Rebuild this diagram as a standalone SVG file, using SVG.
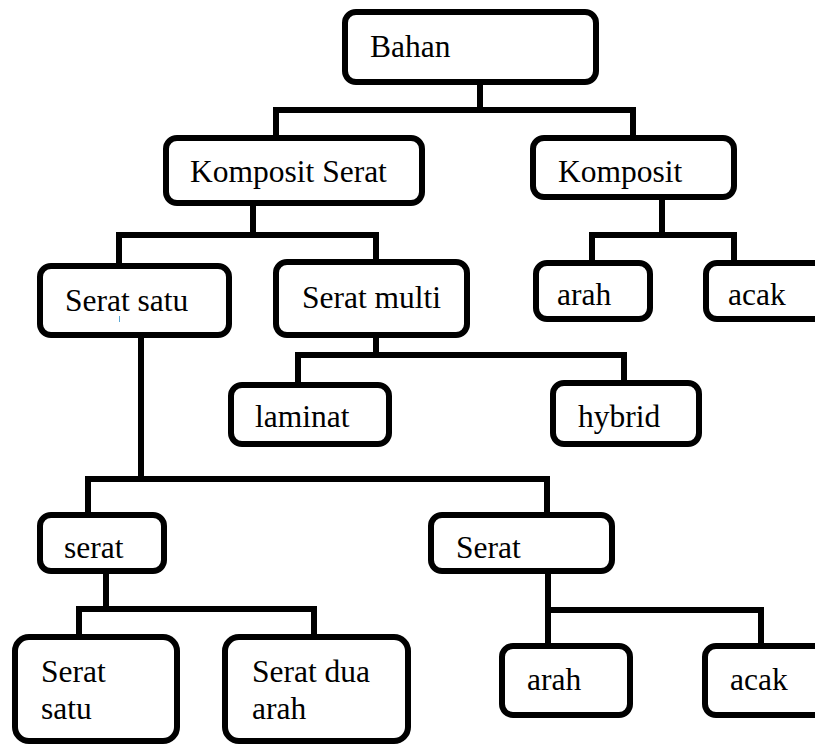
<svg xmlns="http://www.w3.org/2000/svg" width="815" height="746" viewBox="0 0 815 746">
<style>
.box{fill:#fff;stroke:#000;stroke-width:6}
.c{fill:none;stroke:#000;stroke-width:6;stroke-linejoin:miter;stroke-linecap:butt}
text{font-family:"Liberation Serif","Times New Roman",serif;font-size:31.5px;fill:#000}
</style>
<rect width="815" height="746" fill="#fff"/>
<g id="connectors">
<path class="c" d="M480,85 V110 M276,138 V110 H633 V138"/>
<path class="c" d="M253,206 V235 M119,263 V235 H376 V259"/>
<path class="c" d="M662,200 V235 M592,260 V235 H734 V260"/>
<path class="c" d="M376,338 V355 M298,382 V355 H624 V380"/>
<path class="c" d="M141,338 V479 M88,512 V479 H547 V512"/>
<path class="c" d="M106,574 V609 M79,634 V609 H314 V634"/>
<path class="c" d="M548,574 V643 M548,610 H761 V643"/>
</g>
<g id="bahan"><rect class="box" x="345" y="12" width="251" height="70" rx="11"/><text x="370" y="57">Bahan</text></g>
<g id="komposit-serat"><rect class="box" x="166" y="138" width="256" height="65" rx="11"/><text x="190" y="182">Komposit Serat</text></g>
<g id="komposit"><rect class="box" x="533" y="138" width="201" height="59" rx="11"/><text x="558" y="182">Komposit</text></g>
<g id="serat-satu"><rect class="box" x="40" y="266" width="189" height="69" rx="11"/><text x="65" y="311">Serat satu</text><line x1="119.5" y1="316" x2="119.5" y2="322" stroke="#5aa8d6" stroke-width="1"/></g>
<g id="serat-multi"><rect class="box" x="276" y="262" width="191" height="73" rx="11"/><text x="302" y="308">Serat multi</text></g>
<g id="arah-top"><rect class="box" x="536" y="263" width="114" height="56" rx="11"/><text x="557" y="305">arah</text></g>
<g id="acak-top"><rect class="box" x="706" y="263" width="120" height="56" rx="11"/><text x="728" y="305">acak</text></g>
<g id="laminat"><rect class="box" x="231" y="385" width="158" height="59" rx="11"/><text x="255" y="427">laminat</text></g>
<g id="hybrid"><rect class="box" x="553" y="383" width="146" height="61" rx="11"/><text x="578" y="427">hybrid</text></g>
<g id="serat"><rect class="box" x="40" y="515" width="124" height="56" rx="11"/><text x="64" y="558">serat</text></g>
<g id="serat-r"><rect class="box" x="431" y="515" width="181" height="56" rx="11"/><text x="456" y="558">Serat</text></g>
<g id="serat-satu-b"><rect class="box" x="15" y="637" width="162" height="104" rx="14"/><text x="41" y="682">Serat</text><text x="41" y="719">satu</text></g>
<g id="serat-dua-arah"><rect class="box" x="225" y="637" width="183" height="104" rx="14"/><text x="252" y="682">Serat dua</text><text x="252" y="719">arah</text></g>
<g id="arah-bottom"><rect class="box" x="502" y="646" width="128" height="69" rx="11"/><text x="527" y="690">arah</text></g>
<g id="acak-bottom"><rect class="box" x="705" y="646" width="120" height="69" rx="11"/><text x="730" y="690">acak</text></g>
</svg>
